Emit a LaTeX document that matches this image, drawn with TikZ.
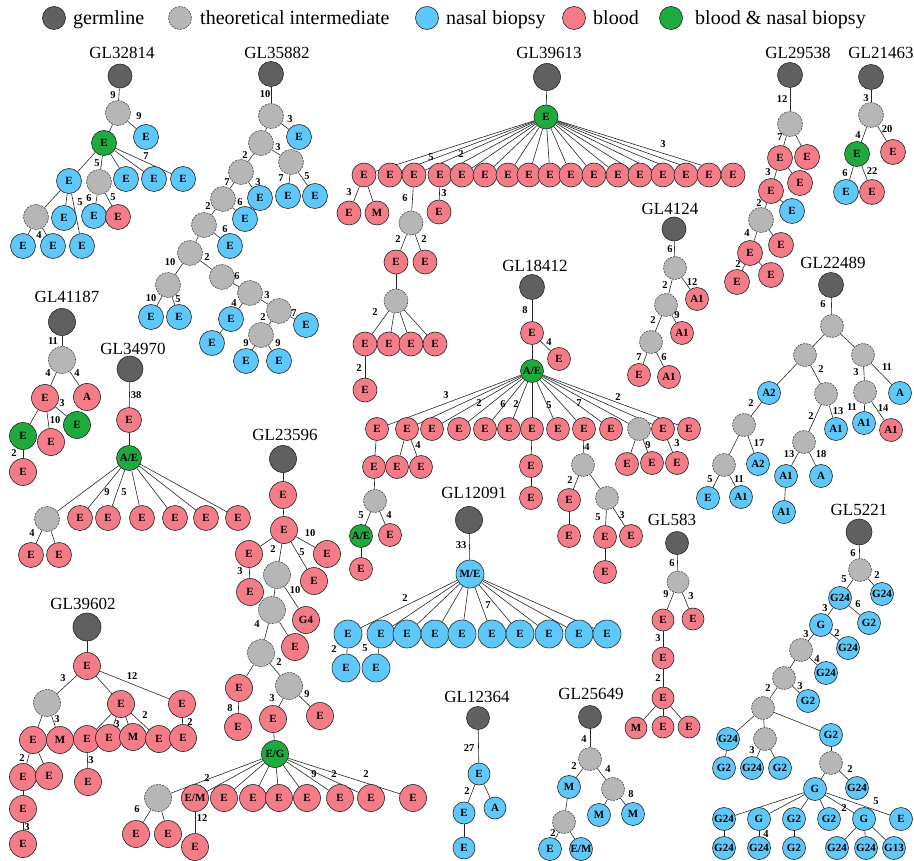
\documentclass[tikz,border=0pt]{standalone}
\usepackage{fontspec}
\setmainfont{Liberation Serif}
\usetikzlibrary{backgrounds}
\definecolor{cgerm}{RGB}{96,96,96}
\definecolor{cint}{RGB}{182,182,182}
\definecolor{cblue}{RGB}{95,200,250}
\definecolor{cpink}{RGB}{244,124,135}
\definecolor{cgreen}{RGB}{30,170,60}
\newcounter{elc}
\newcommand\elab[3]{\stepcounter{elc}\node[el] (lab\theelc) at (#1,#2) {#3};}
\def\nsz{25pt}\def\gsz{25pt}
\tikzset{
 nd/.style={circle, draw=black!85, line width=0.6pt, inner sep=0pt, minimum size=\nsz, font=\fontsize{11}{11}\selectfont\bfseries},
 germ/.style={nd, fill=cgerm, minimum size=\gsz},
 inter/.style={nd, fill=cint, dash pattern=on 2pt off 1pt, draw=black!70},
 nb/.style={nd, fill=cblue},
 bl/.style={nd, fill=cpink},
 gr/.style={nd, fill=cgreen},
 ttl/.style={font=\fontsize{17}{17}\selectfont, inner sep=0pt},
 leg/.style={anchor=base west, font=\fontsize{20}{20}\selectfont, inner sep=0pt},
 el/.style={font=\fontsize{10.5}{10.5}\selectfont\bfseries, inner sep=0pt},
 edge/.style={line width=0.6pt, draw=black!85}
}
\begin{document}
\begin{tikzpicture}[x=1pt,y=-1pt]
\useasboundingbox (0,0) rectangle (914,861);
% ---------------- legend
\begin{scope}\def\nsz{23pt}\def\gsz{23pt}
\node[germ] (lg1) at (54,18) {};
\node[leg] (lt1) at (73,25) {germline};
\node[inter] (lg2) at (180,18) {};
\node[leg] (lt2) at (200,25) {theoretical intermediate};
\node[nb] (lg3) at (427,18) {};
\node[leg] (lt3) at (446,25) {nasal biopsy};
\node[bl] (lg4) at (574,18) {};
\node[leg] (lt4) at (593,25) {blood};
\node[gr] (lg5) at (671,18) {};
\node[leg] (lt5) at (695,25) {blood \& nasal biopsy};
\end{scope}
% ---------------- GL32814
\begin{scope}\def\nsz{25pt}\def\gsz{24pt}
\node[ttl] (tA) at (122,53) {GL32814};
\node[germ] (A0) at (120,76) {};
\node[inter] (A1) at (118,113) {};
\node[nb] (A2) at (146,137) {E};
\node[gr] (A3) at (104,143) {E};
\node[nb] (A4) at (69,181) {E};
\node[inter] (A5) at (99,182) {};
\node[nb] (A6) at (126,179) {E};
\node[nb] (A7) at (154,179) {E};
\node[nb] (A8) at (183,179) {E};
\node[inter] (A9) at (36,217) {};
\node[nb] (A10) at (64,218) {E};
\node[nb] (A11) at (82,246) {E};
\node[nb] (A12) at (23,246) {E};
\node[nb] (A13) at (53,246) {E};
\node[nb] (A14) at (94,216) {E};
\node[bl] (A15) at (118,217) {E};
\elab{113}{95}{9}\elab{139}{116}{9}\elab{97}{163}{5}\elab{146}{156}{7}
\elab{80}{202}{5}\elab{39}{235}{4}\elab{89}{198}{6}\elab{113}{197}{5}
\begin{pgfonlayer}{background}
\foreach \a/\b in {A0/A1,A1/A2,A1/A3,A3/A4,A3/A5,A3/A6,A3/A7,A3/A8,A4/A9,A4/A10,A4/A11,A9/A12,A9/A13,A5/A14,A5/A15}
 \draw[edge] (\a)--(\b);
\end{pgfonlayer}
\end{scope}
% ---------------- GL35882
\begin{scope}\def\nsz{25pt}\def\gsz{25pt}
\node[ttl] (tB) at (277,53) {GL35882};
\node[germ] (B0) at (271,74) {};
\node[inter] (B1) at (271,116) {};
\node[nb] (B2) at (299,137) {E};
\node[inter] (B3) at (261,143) {};
\node[inter] (B4) at (291,162) {};
\node[nb] (B5) at (288,196) {E};
\node[nb] (B6) at (315,196) {E};
\node[inter] (B7) at (241,172) {};
\node[nb] (B8) at (260,198) {E};
\node[inter] (B9) at (223,199) {};
\node[nb] (B10) at (245,219) {E};
\node[inter] (B11) at (204,225) {};
\node[nb] (B12) at (230,246) {E};
\node[inter] (B13) at (190,253) {};
\node[inter] (B14) at (168,285) {};
\node[inter] (B15) at (222,277) {};
\node[nb] (B16) at (151,317) {E};
\node[nb] (B17) at (179,317) {E};
\node[inter] (B18) at (250,293) {};
\node[nb] (B19) at (231,319) {E};
\node[nb] (B20) at (212,343) {E};
\node[inter] (B21) at (279,311) {};
\node[nb] (B22) at (306,325) {E};
\node[inter] (B23) at (261,335) {};
\node[nb] (B24) at (246,361) {E};
\node[nb] (B25) at (279,361) {E};
\elab{265}{94}{10}\elab{290}{119}{3}\elab{278}{147}{3}\elab{281}{178}{7}\elab{307}{176}{5}
\elab{245}{155}{2}\elab{258}{182}{3}\elab{227}{182}{7}\elab{240}{202}{6}\elab{208}{206}{2}
\elab{225}{229}{6}\elab{170}{262}{10}\elab{207}{257}{2}\elab{237}{276}{6}\elab{151}{298}{10}
\elab{178}{299}{5}\elab{234}{303}{4}\elab{267}{295}{3}\elab{294}{313}{7}\elab{263}{317}{2}
\elab{246}{343}{9}\elab{278}{343}{9}
\begin{pgfonlayer}{background}
\foreach \a/\b in {B0/B1,B1/B2,B1/B3,B3/B4,B4/B5,B4/B6,B3/B7,B7/B8,B7/B9,B9/B10,B9/B11,B11/B12,B11/B13,B13/B14,B13/B15,B14/B16,B14/B17,B15/B18,B18/B19,B19/B20,B18/B21,B21/B22,B21/B23,B23/B24,B23/B25}
 \draw[edge] (\a)--(\b);
\end{pgfonlayer}
\end{scope}
% ---------------- GL41187
\begin{scope}\def\nsz{27pt}\def\gsz{27pt}
\node[ttl] (tC) at (67,297) {GL41187};
\node[germ] (C0) at (62,322) {};
\node[inter] (C1) at (62,360) {};
\node[bl] (C2) at (45,398) {E};
\node[bl] (C3) at (87,397) {A};
\node[gr] (C4) at (23,436) {E};
\node[bl] (C5) at (51,442) {E};
\node[gr] (C6) at (77,425) {E};
\node[bl] (C7) at (23,472) {E};
\elab{53}{341}{11}\elab{48}{373}{4}\elab{77}{373}{4}\elab{62}{403}{3}\elab{55}{420}{10}\elab{14}{453}{2}
\begin{pgfonlayer}{background}
\foreach \a/\b in {C0/C1,C1/C2,C1/C3,C2/C4,C2/C5,C2/C6,C4/C7}
 \draw[edge] (\a)--(\b);
\end{pgfonlayer}
\end{scope}
% ---------------- GL34970
\begin{scope}\def\nsz{25pt}\def\gsz{26pt}
\node[ttl] (tD) at (133,349) {GL34970};
\node[germ] (D0) at (130,369) {};
\node[bl] (D1) at (129,420) {E};
\node[gr] (D2) at (129,458) {A/E};
\node[inter] (D3) at (47,519) {};
\foreach \x [count=\i from 4] in {80,108,142,175,206,238} \node[bl] (D\i) at (\x,518) {E};
\node[bl] (D10) at (31,555) {E};
\node[bl] (D11) at (59,555) {E};
\elab{136}{395}{38}\elab{107}{492}{9}\elab{124}{492}{5}\elab{32}{533}{4}
\begin{pgfonlayer}{background}
\foreach \a/\b in {D0/D1,D1/D2,D2/D3,D2/D4,D2/D5,D2/D6,D2/D7,D2/D8,D2/D9,D3/D10,D3/D11}
 \draw[edge] (\a)--(\b);
\end{pgfonlayer}
\end{scope}
% ---------------- GL39613
\begin{scope}\def\nsz{24pt}\def\gsz{27pt}
\node[ttl] (tE) at (549,53) {GL39613};
\node[germ] (E0) at (547,77) {};
\node[gr] (E1) at (546,117) {E};
\foreach \x [count=\i] in {364,390,414,440,462,485,508,529,550,571,594,618,640,663,686,709,733}
 \node[bl] (ER\i) at (\x,175) {E};
\node[bl] (E2) at (349,213) {E};
\node[bl] (E3) at (377,213) {M};
\node[inter] (E4) at (411,223) {};
\node[bl] (E5) at (439,212) {E};
\node[bl] (E6) at (396,262) {E};
\node[bl] (E7) at (425,262) {E};
\node[inter] (E8) at (396,301) {};
\foreach \x [count=\i from 9] in {365,389,411,435} \node[bl] (E\i) at (\x,344) {E};
\node[bl] (E13) at (365,390) {E};
\elab{431}{157}{5}\elab{461}{154}{2}\elab{663}{144}{3}\elab{349}{192}{3}\elab{405}{198}{6}
\elab{444}{193}{3}\elab{398}{239}{2}\elab{424}{239}{2}\elab{375}{312}{2}\elab{359}{368}{2}
\begin{pgfonlayer}{background}
\draw[edge] (E0)--(E1);
\foreach \i in {1,...,17} \draw[edge] (E1)--(ER\i);
\foreach \a/\b in {ER1/E2,ER1/E3,ER3/E4,ER4/E5,E4/E6,E4/E7,E6/E8,E8/E9,E8/E10,E8/E11,E8/E12,E9/E13}
 \draw[edge] (\a)--(\b);
\end{pgfonlayer}
\end{scope}
% ---------------- GL4124
\begin{scope}\def\nsz{23pt}\def\gsz{24pt}
\node[ttl] (tF) at (670,209) {GL4124};
\node[germ] (F0) at (674,229) {};
\node[inter] (F1) at (675,268) {};
\node[inter] (F2) at (666,305) {};
\node[bl] (F3) at (697,299) {A1};
\node[bl] (F4) at (682,333) {A1};
\node[inter] (F5) at (651,342) {};
\node[bl] (F6) at (639,375) {E};
\node[bl] (F7) at (669,377) {A1};
\elab{670}{249}{6}\elab{665}{285}{2}\elab{692}{282}{12}\elab{677}{315}{9}\elab{653}{320}{2}\elab{639}{357}{7}\elab{664}{357}{6}
\begin{pgfonlayer}{background}
\foreach \a/\b in {F0/F1,F1/F2,F1/F3,F2/F4,F2/F5,F5/F6,F5/F7}
 \draw[edge] (\a)--(\b);
\end{pgfonlayer}
\end{scope}
% ---------------- GL29538
\begin{scope}\def\nsz{25pt}\def\gsz{25pt}
\node[ttl] (tG) at (798,53) {GL29538};
\node[germ] (G0) at (790,75) {};
\node[inter] (G1) at (790,124) {};
\node[bl] (G2) at (780,158) {E};
\node[bl] (G3) at (807,157) {E};
\node[bl] (G4) at (771,191) {E};
\node[bl] (G5) at (800,183) {E};
\node[inter] (G6) at (761,220) {};
\node[nb] (G7) at (792,211) {E};
\node[bl] (G8) at (750,253) {E};
\node[bl] (G9) at (781,245) {E};
\node[bl] (G10) at (737,282) {E};
\node[bl] (G11) at (771,275) {E};
\elab{782}{99}{12}\elab{780}{137}{7}\elab{768}{172}{3}\elab{759}{203}{2}\elab{747}{233}{4}\elab{738}{264}{2}
\begin{pgfonlayer}{background}
\foreach \a/\b in {G0/G1,G1/G2,G1/G3,G2/G4,G2/G5,G4/G6,G4/G7,G6/G8,G6/G9,G8/G10,G8/G11}
 \draw[edge] (\a)--(\b);
\end{pgfonlayer}
\end{scope}
% ---------------- GL21463
\begin{scope}\def\nsz{25pt}\def\gsz{25pt}
\node[ttl] (tH) at (881,53) {GL21463};
\node[germ] (H0) at (871,77) {};
\node[inter] (H1) at (871,115) {};
\node[gr] (H2) at (857,154) {E};
\node[bl] (H3) at (893,152) {E};
\node[nb] (H4) at (846,192) {E};
\node[bl] (H5) at (872,192) {E};
\elab{866}{98}{3}\elab{858}{135}{4}\elab{887}{129}{20}\elab{845}{173}{6}\elab{872}{171}{22}
\begin{pgfonlayer}{background}
\foreach \a/\b in {H0/H1,H1/H2,H1/H3,H2/H4,H2/H5}
 \draw[edge] (\a)--(\b);
\end{pgfonlayer}
\end{scope}
% ---------------- GL18412
\begin{scope}\def\nsz{23pt}\def\gsz{25pt}
\node[ttl] (tI) at (535,266) {GL18412};
\node[germ] (I0) at (532,287) {};
\node[bl] (I1) at (532,333) {E};
\node[bl] (I2) at (559,359) {E};
\node[gr] (I3) at (532,371) {A/E};
\foreach \x [count=\i] in {377,407,432,459,485,509,532,558,584,611} \node[bl] (IS\i) at (\x,429) {E};
\node[inter] (IS11) at (639,429) {};
\node[bl] (IS12) at (663,429) {E};
\node[bl] (IS13) at (689,429) {E};
\node[bl] (I4) at (374,467) {E};
\node[inter] (I5) at (375,501) {};
\node[gr] (I6) at (361,536) {A/E};
\node[bl] (I7) at (390,535) {E};
\node[bl] (I8) at (361,569) {E};
\node[bl] (I9) at (397,467) {E};
\node[bl] (I10) at (421,467) {E};
\node[bl] (I11) at (531,466) {E};
\node[bl] (I12) at (531,498) {E};
\node[inter] (I13) at (583,465) {};
\node[bl] (I14) at (569,500) {E};
\node[inter] (I15) at (607,498) {};
\node[bl] (I16) at (569,536) {E};
\node[bl] (I17) at (605,537) {E};
\node[bl] (I18) at (631,536) {E};
\node[bl] (I19) at (605,572) {E};
\node[bl] (I20) at (627,464) {E};
\node[bl] (I21) at (652,463) {E};
\node[bl] (I22) at (677,463) {E};
\elab{525}{310}{8}\elab{549}{342}{4}\elab{446}{395}{3}\elab{479}{403}{2}\elab{503}{404}{6}
\elab{516}{404}{2}\elab{549}{405}{5}\elab{579}{403}{7}\elab{618}{397}{2}\elab{418}{445}{4}
\elab{361}{515}{5}\elab{389}{515}{4}\elab{587}{447}{4}\elab{570}{480}{2}\elab{598}{517}{5}
\elab{622}{515}{3}\elab{648}{445}{9}\elab{677}{443}{3}
\begin{pgfonlayer}{background}
\foreach \a/\b in {I0/I1,I1/I2,I1/I3}
 \draw[edge] (\a)--(\b);
\foreach \i in {1,...,13} \draw[edge] (I3)--(IS\i);
\foreach \a/\b in {IS1/I4,I4/I5,I5/I6,I5/I7,I6/I8,IS2/I9,IS2/I10,IS7/I11,I11/I12,IS9/I13,I13/I14,I13/I15,I14/I16,I15/I17,I15/I18,I17/I19,IS11/I20,IS11/I21,IS12/I22}
 \draw[edge] (\a)--(\b);
\end{pgfonlayer}
\end{scope}
% ---------------- GL22489
\begin{scope}\def\nsz{23pt}\def\gsz{25pt}
\node[ttl] (tJ) at (833,263) {GL22489};
\node[germ] (J0) at (831,285) {};
\node[inter] (J1) at (832,326) {};
\node[inter] (J2) at (805,355) {};
\node[inter] (J3) at (863,355) {};
\node[nb] (J4) at (769,393) {A2};
\node[inter] (J5) at (826,394) {};
\node[inter] (J6) at (865,392) {};
\node[nb] (J7) at (900,393) {A};
\node[nb] (J8) at (864,423) {A1};
\node[bl] (J9) at (891,430) {A1};
\node[inter] (J10) at (744,425) {};
\node[inter] (J11) at (804,442) {};
\node[nb] (J12) at (836,429) {A1};
\node[inter] (J13) at (724,465) {};
\node[nb] (J14) at (758,464) {A2};
\node[nb] (J15) at (708,498) {E};
\node[nb] (J16) at (741,497) {A1};
\node[nb] (J17) at (786,476) {A1};
\node[nb] (J18) at (821,476) {A};
\node[nb] (J19) at (784,512) {A1};
\elab{823}{304}{6}\elab{821}{369}{2}\elab{856}{372}{3}\elab{887}{367}{11}\elab{852}{407}{11}
\elab{883}{408}{14}\elab{751}{403}{2}\elab{811}{416}{2}\elab{838}{411}{13}\elab{759}{443}{17}
\elab{710}{479}{5}\elab{739}{479}{11}\elab{789}{454}{13}\elab{821}{454}{18}
\begin{pgfonlayer}{background}
\foreach \a/\b in {J0/J1,J1/J2,J1/J3,J2/J4,J2/J5,J3/J6,J3/J7,J6/J8,J6/J9,J4/J10,J5/J11,J5/J12,J10/J13,J10/J14,J13/J15,J13/J16,J11/J17,J11/J18,J17/J19}
 \draw[edge] (\a)--(\b);
\end{pgfonlayer}
\end{scope}
% ---------------- GL5221
\begin{scope}\def\nsz{23pt}\def\gsz{26pt}
\node[ttl] (tK) at (859,510) {GL5221};
\node[germ] (K0) at (859,532) {};
\node[inter] (K1) at (860,570) {};
\node[nb] (K2) at (840,598) {G24};
\node[nb] (K3) at (882,594) {G24};
\node[nb] (K4) at (821,625) {G};
\node[nb] (K5) at (869,623) {G2};
\node[inter] (K6) at (801,650) {};
\node[nb] (K7) at (848,648) {G24};
\node[inter] (K8) at (784,678) {};
\node[nb] (K9) at (826,673) {G24};
\node[inter] (K10) at (763,708) {};
\node[nb] (K11) at (808,701) {G2};
\node[nb] (K12) at (728,739) {G24};
\node[inter] (K13) at (765,739) {};
\node[nb] (K14) at (831,735) {G2};
\node[nb] (K15) at (724,768) {G2};
\node[nb] (K16) at (752,768) {G24};
\node[nb] (K17) at (780,768) {G2};
\node[inter] (K18) at (831,763) {};
\node[nb] (K19) at (815,789) {G};
\node[nb] (K20) at (857,788) {G24};
\node[nb] (K21) at (724,819) {G24};
\node[nb] (K22) at (759,819) {G};
\node[nb] (K23) at (794,819) {G2};
\node[nb] (K24) at (829,819) {G2};
\node[nb] (K25) at (864,819) {G};
\node[nb] (K26) at (901,819) {E};
\node[nb] (K27) at (724,848) {G24};
\node[nb] (K28) at (759,848) {G24};
\node[nb] (K29) at (794,848) {G2};
\node[nb] (K30) at (837,848) {G24};
\node[nb] (K31) at (866,848) {G24};
\node[nb] (K32) at (894,848) {G13};
\elab{853}{553}{6}\elab{844}{579}{5}\elab{877}{575}{2}\elab{825}{608}{3}\elab{858}{604}{6}
\elab{806}{634}{3}\elab{837}{633}{2}\elab{817}{659}{4}\elab{768}{688}{2}\elab{800}{686}{3}
\elab{752}{750}{3}\elab{850}{769}{2}\elab{844}{808}{2}\elab{876}{801}{5}\elab{766}{834}{4}
\begin{pgfonlayer}{background}
\foreach \a/\b in {K0/K1,K1/K2,K1/K3,K2/K4,K2/K5,K4/K6,K4/K7,K6/K8,K6/K9,K8/K10,K8/K11,K10/K12,K10/K13,K10/K14,K12/K15,K13/K16,K13/K17,K14/K18,K18/K19,K18/K20,K19/K21,K19/K22,K19/K23,K19/K24,K19/K25,K19/K26,K21/K27,K22/K28,K23/K29,K25/K30,K25/K31,K25/K32}
 \draw[edge] (\a)--(\b);
\end{pgfonlayer}
\end{scope}
% ---------------- GL583
\begin{scope}\def\nsz{22pt}\def\gsz{23pt}
\node[ttl] (tL) at (672,520) {GL583};
\node[germ] (L0) at (677,543) {};
\node[inter] (L1) at (678,582) {};
\node[bl] (L2) at (663,620) {E};
\node[bl] (L3) at (693,619) {E};
\node[bl] (L4) at (663,658) {E};
\node[bl] (L5) at (663,698) {E};
\node[bl] (L6) at (636,728) {M};
\node[bl] (L7) at (663,727) {E};
\node[bl] (L8) at (689,727) {E};
\elab{672}{563}{6}\elab{666}{594}{9}\elab{691}{596}{3}\elab{658}{638}{3}\elab{658}{678}{2}
\begin{pgfonlayer}{background}
\foreach \a/\b in {L0/L1,L1/L2,L1/L3,L2/L4,L4/L5,L5/L6,L5/L7,L5/L8}
 \draw[edge] (\a)--(\b);
\end{pgfonlayer}
\end{scope}
% ---------------- GL12091
\begin{scope}\def\nsz{28pt}\def\gsz{27pt}
\node[ttl] (tM) at (474,493) {GL12091};
\node[germ] (M0) at (469,520) {};
\node[nb] (M1) at (470,574) {M/E};
\foreach \x [count=\i] in {348,381,407,435,462,492,520,549,579,607} \node[nb] (MT\i) at (\x,634) {E};
\node[nb] (M2) at (346,668) {E};
\node[nb] (M3) at (376,668) {E};
\elab{461}{545}{33}\elab{405}{598}{2}\elab{488}{605}{7}\elab{334}{649}{2}\elab{365}{648}{5}
\begin{pgfonlayer}{background}
\draw[edge] (M0)--(M1);
\foreach \i in {1,...,10} \draw[edge] (M1)--(MT\i);
\draw[edge] (MT1)--(M2);
\draw[edge] (MT2)--(M3);
\end{pgfonlayer}
\end{scope}
% ---------------- GL12364
\begin{scope}\def\nsz{22pt}\def\gsz{23pt}
\node[ttl] (tN) at (477,697) {GL12364};
\node[germ] (N0) at (478,718) {};
\node[nb] (N1) at (479,774) {E};
\node[nb] (N2) at (464,813) {E};
\node[nb] (N3) at (495,808) {A};
\node[nb] (N4) at (464,848) {E};
\elab{469}{748}{27}\elab{467}{791}{2}
\begin{pgfonlayer}{background}
\foreach \a/\b in {N0/N1,N1/N2,N1/N3,N2/N4}
 \draw[edge] (\a)--(\b);
\end{pgfonlayer}
\end{scope}
% ---------------- GL25649
\begin{scope}\def\nsz{23pt}\def\gsz{23pt}
\node[ttl] (tO) at (591,694) {GL25649};
\node[germ] (O0) at (590,717) {};
\node[inter] (O1) at (590,759) {};
\node[nb] (O2) at (569,787) {M};
\node[inter] (O3) at (613,789) {};
\node[inter] (O4) at (564,822) {};
\node[nb] (O5) at (599,815) {M};
\node[nb] (O6) at (633,814) {M};
\node[nb] (O7) at (550,849) {E};
\node[nb] (O8) at (581,849) {E/M};
\elab{584}{739}{4}\elab{574}{766}{2}\elab{608}{769}{4}\elab{631}{794}{8}\elab{553}{833}{2}
\begin{pgfonlayer}{background}
\foreach \a/\b in {O0/O1,O1/O2,O1/O3,O2/O4,O3/O5,O3/O6,O4/O7,O4/O8}
 \draw[edge] (\a)--(\b);
\end{pgfonlayer}
\end{scope}
% ---------------- GL23596
\begin{scope}\def\nsz{27pt}\def\gsz{27pt}
\node[ttl] (tP) at (285,435) {GL23596};
\node[germ] (P0) at (283,459) {};
\node[bl] (P1) at (283,495) {E};
\node[bl] (P2) at (284,530) {E};
\node[bl] (P3) at (249,554) {E};
\node[inter] (P4) at (277,575) {};
\node[bl] (P5) at (314,581) {E};
\node[bl] (P6) at (327,554) {E};
\node[bl] (P7) at (250,592) {E};
\node[inter] (P8) at (272,610) {};
\node[bl] (P9) at (306,620) {G4};
\node[inter] (P10) at (261,653) {};
\node[bl] (P11) at (295,647) {E};
\node[bl] (P12) at (239,688) {E};
\node[inter] (P13) at (289,686) {};
\node[bl] (P14) at (238,727) {E};
\node[bl] (P15) at (273,719) {E};
\node[bl] (P16) at (320,716) {E};
\node[gr] (P17) at (275,754) {E/G};
\node[inter] (P18) at (158,798) {};
\node[bl] (P19) at (195,798) {E/M};
\foreach \x [count=\i from 20] in {224,253,279,307,340,371,413} \node[bl] (P\i) at (\x,798) {E};
\node[bl] (P27) at (136,834) {E};
\node[bl] (P28) at (168,834) {E};
\node[bl] (P29) at (195,847) {E};
\elab{273}{549}{2}\elab{302}{552}{5}\elab{310}{533}{10}\elab{240}{571}{3}\elab{295}{590}{10}
\elab{257}{624}{4}\elab{279}{662}{2}\elab{230}{708}{8}\elab{272}{698}{3}\elab{307}{694}{9}
\elab{207}{778}{2}\elab{314}{774}{9}\elab{334}{774}{2}\elab{366}{774}{2}\elab{137}{809}{6}\elab{202}{818}{12}
\begin{pgfonlayer}{background}
\foreach \a/\b in {P0/P1,P1/P2,P2/P3,P2/P4,P2/P5,P2/P6,P3/P7,P4/P8,P4/P9,P8/P10,P8/P11,P10/P12,P10/P13,P12/P14,P13/P15,P13/P16,P15/P17,P18/P27,P18/P28,P19/P29}
 \draw[edge] (\a)--(\b);
\foreach \i in {18,...,26} \draw[edge] (P17)--(P\i);
\end{pgfonlayer}
\end{scope}
% ---------------- GL39602
\begin{scope}\def\nsz{27pt}\def\gsz{28pt}
\node[ttl] (tQ) at (83,604) {GL39602};
\node[germ] (Q0) at (87,627) {};
\node[bl] (Q1) at (87,666) {E};
\node[inter] (Q2) at (47,703) {};
\node[bl] (Q3) at (121,704) {E};
\node[bl] (Q4) at (182,704) {E};
\node[bl] (Q5) at (33,740) {E};
\node[bl] (Q6) at (60,740) {M};
\node[bl] (Q7) at (87,739) {E};
\node[bl] (Q8) at (109,738) {E};
\node[bl] (Q9) at (133,737) {M};
\node[bl] (Q10) at (159,739) {E};
\node[bl] (Q11) at (183,738) {E};
\node[bl] (Q12) at (23,777) {E};
\node[bl] (Q13) at (49,776) {E};
\node[bl] (Q14) at (23,809) {E};
\node[bl] (Q15) at (23,844) {E};
\node[bl] (Q16) at (88,782) {E};
\elab{63}{678}{3}\elab{132}{676}{12}\elab{57}{719}{3}\elab{117}{724}{3}\elab{145}{715}{2}
\elab{190}{722}{2}\elab{22}{758}{2}\elab{27}{827}{3}\elab{91}{760}{3}
\begin{pgfonlayer}{background}
\foreach \a/\b in {Q0/Q1,Q1/Q2,Q1/Q3,Q1/Q4,Q2/Q5,Q2/Q6,Q3/Q7,Q3/Q8,Q3/Q9,Q3/Q10,Q4/Q11,Q5/Q12,Q5/Q13,Q12/Q14,Q14/Q15,Q7/Q16}
 \draw[edge] (\a)--(\b);
\end{pgfonlayer}
\end{scope}
\end{tikzpicture}
\end{document}
